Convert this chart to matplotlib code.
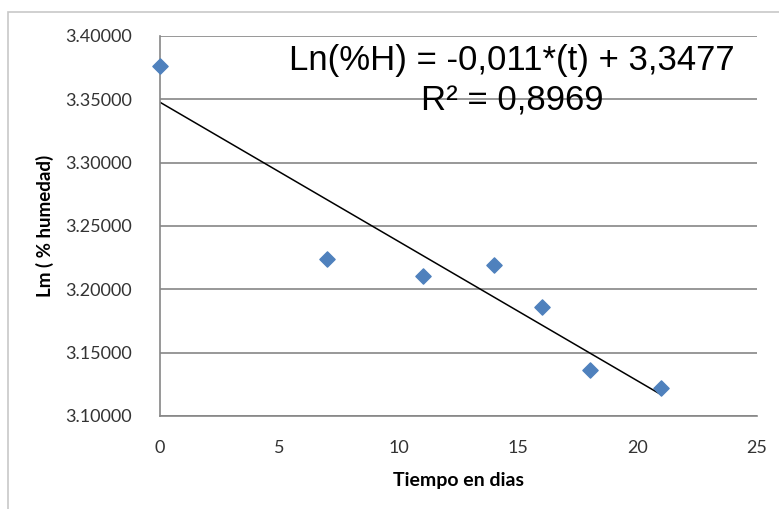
import numpy as np
import matplotlib.pyplot as plt
from matplotlib.patches import Rectangle

# datos: tiempo (dias) y ln(% humedad)
tiempo = [0, 7, 11, 14, 16, 18, 21]
ln_humedad = [3.3763, 3.2240, 3.2105, 3.2192, 3.1863, 3.1363, 3.1222]

# recta de tendencia reportada
pendiente = -0.011
intercepto = 3.3477
ecuacion = "Ln(%H) = -0,011*(t) + 3,3477"
r2_texto = "R² = 0,8969"

x_ticks = [0, 5, 10, 15, 20, 25]
y_ticks = [3.10, 3.15, 3.20, 3.25, 3.30, 3.35, 3.40]

fig = plt.figure(figsize=(7.79, 5.09), dpi=100)
fig.patches.append(Rectangle((8 / 779, -0.1), 1.2, 0.1 + 1 - 12 / 509,
                             transform=fig.transFigure, fill=False,
                             edgecolor="#c8c8c8", lw=1.2))
ax = fig.add_axes([160 / 779, 93 / 509, 597 / 779, 380 / 509])

ax.scatter(tiempo, ln_humedad, marker="D", s=60, color="#4f81bd", zorder=3,
           clip_on=False)
t_fit = np.array([0, 21])
ax.plot(t_fit, pendiente * t_fit + intercepto, color="black", lw=1.1, zorder=2)

ax.set_xlim(0, 25)
ax.set_ylim(3.10, 3.40)
ax.set_xticks(x_ticks)
ax.set_yticks(y_ticks)
ax.set_yticklabels([f"{v:.5f}" for v in y_ticks])
ax.grid(axis="y", color="#868686", lw=1.2)
ax.set_axisbelow(True)
for s in ["top", "right"]:
    ax.spines[s].set_visible(False)
for s in ["left", "bottom"]:
    ax.spines[s].set_color("#868686")
    ax.spines[s].set_linewidth(1.2)
ax.tick_params(length=0, labelsize=13, colors="#333333")
ax.tick_params(axis="x", pad=17)
ax.tick_params(axis="y", pad=20)
for lab in ax.get_xticklabels() + ax.get_yticklabels():
    lab.set_family("Lato")

ax.set_xlabel("Tiempo en dias", fontsize=14, fontweight="bold", family="Lato",
              labelpad=12)
ax.set_ylabel("Lm ( % humedad)", fontsize=13.5, fontweight="bold", family="Lato",
              labelpad=8)

ax.text(0.59, 0.935, ecuacion, transform=ax.transAxes, ha="center", va="center",
        fontsize=25, family="Liberation Sans")
ax.text(0.59, 0.83, r2_texto, transform=ax.transAxes, ha="center", va="center",
        fontsize=25, family="Liberation Sans")

fig.savefig("out.png", dpi=100)
